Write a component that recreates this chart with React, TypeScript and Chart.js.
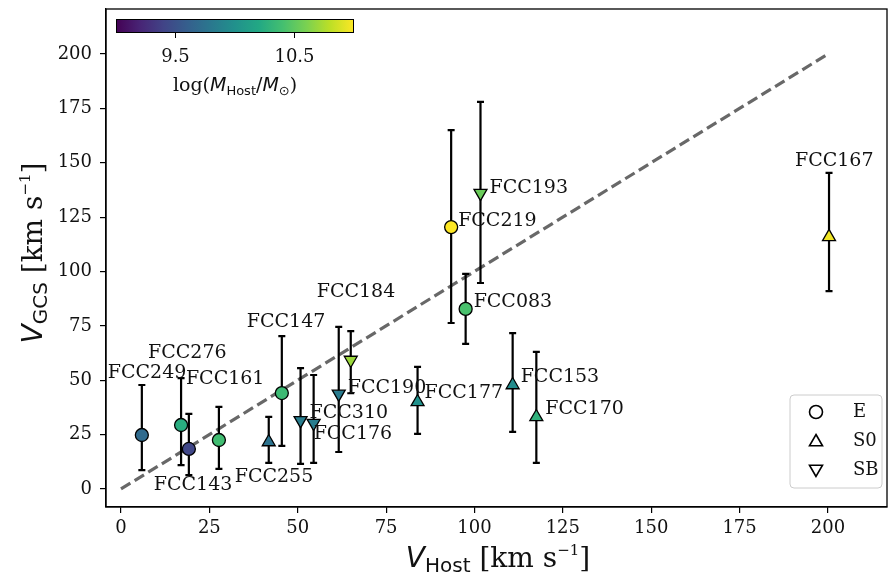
import React, { useEffect, useRef } from "react";
import { Chart, registerables } from "chart.js";
Chart.register(...registerables);

// ---- data ----
const names = ["FCC249", "FCC276", "FCC143", "FCC161", "FCC255", "FCC147", "FCC310", "FCC176", "FCC190", "FCC184", "FCC177", "FCC219", "FCC193", "FCC083", "FCC153", "FCC170", "FCC167"];
const vHost = [5.9, 17.0, 19.2, 27.7, 41.8, 45.5, 50.8, 54.5, 61.6, 65.0, 83.9, 93.4, 101.7, 97.5, 110.8, 117.5, 200.3];
const vGcs = [24.8, 29.4, 18.4, 22.5, 21.6, 44.1, 31.5, 30.3, 43.7, 59.3, 40.0, 120.4, 136.0, 82.8, 47.8, 33.1, 115.9];
const errLow = [16.1, 18.4, 12.0, 13.3, 9.6, 24.3, 20.0, 18.3, 26.7, 15.3, 14.7, 44.1, 41.3, 16.1, 21.6, 21.1, 24.9];
const errHigh = [23.0, 21.6, 16.1, 15.2, 11.5, 26.2, 24.1, 22.1, 30.8, 13.3, 16.1, 44.6, 42.0, 16.1, 23.9, 29.9, 29.4];
const morph = ["E", "E", "E", "E", "S0", "E", "SB", "SB", "SB", "SB", "S0", "E", "SB", "E", "S0", "S0", "S0"];
const logMass = [9.7, 10.24, 9.42, 10.38, 9.76, 10.36, 9.84, 9.84, 9.82, 10.7, 10.0, 11.0, 10.54, 10.42, 9.96, 10.28, 10.96];
const oneToOne = [0, 200];
const xTicks = [0, 25, 50, 75, 100, 125, 150, 175, 200];
const yTicks = [0, 25, 50, 75, 100, 125, 150, 175, 200];
const cbarRange = [9.0, 11.0];
const cbarTicks = [9.5, 10.5];
const legendLabels = ["E", "S0", "SB"];

// label placement (pixel offsets from marker), same order as names
const labelOffsets: [number, number][] = [
  [-34, -62], [-33, -72], [-35, 36], [-33, -61], [-34, 35], [-35, -71], [9, -7], [0, 11], [9, -6],
  [-34, -68], [7, -9], [7, -6], [9, -5], [8, -7], [8, -8], [9, -8], [-34, -76],
];

const SERIF = "'DejaVu Serif', serif";
const SANS = "'DejaVu Sans', sans-serif";

const VIRIDIS = ["#440154", "#482475", "#414487", "#355f8d", "#2a788e", "#21918c", "#22a884", "#44bf70", "#7ad151", "#bddf26", "#fde725"];
function hexToRgb(h: string) {
  return [parseInt(h.slice(1, 3), 16), parseInt(h.slice(3, 5), 16), parseInt(h.slice(5, 7), 16)];
}
function viridis(t: number) {
  t = Math.max(0, Math.min(1, t));
  const s = t * (VIRIDIS.length - 1);
  const i = Math.min(VIRIDIS.length - 2, Math.floor(s));
  const f = s - i;
  const a = hexToRgb(VIRIDIS[i]);
  const b = hexToRgb(VIRIDIS[i + 1]);
  const c = a.map((v, k) => Math.round(v + (b[k] - v) * f));
  return `rgb(${c[0]},${c[1]},${c[2]})`;
}
const massColor = (m: number) => viridis((m - cbarRange[0]) / (cbarRange[1] - cbarRange[0]));

type Part = { text: string; font: string; dy?: number };
function drawRich(ctx: CanvasRenderingContext2D, parts: Part[], x: number, y: number) {
  let total = 0;
  const widths = parts.map((p) => {
    ctx.font = p.font;
    const w = ctx.measureText(p.text).width;
    total += w;
    return w;
  });
  let cx = x - total / 2;
  ctx.textAlign = "left";
  ctx.textBaseline = "alphabetic";
  parts.forEach((p, i) => {
    ctx.font = p.font;
    ctx.fillText(p.text, cx, y + (p.dy || 0));
    cx += widths[i];
  });
}

function markerPath(ctx: CanvasRenderingContext2D, type: string, x: number, y: number) {
  ctx.beginPath();
  if (type === "E") {
    ctx.arc(x, y, 6.5, 0, Math.PI * 2);
  } else {
    const r = 7.5;
    const rot = type === "SB" ? Math.PI : 0;
    for (let k = 0; k < 3; k++) {
      const a = rot + (k * 2 * Math.PI) / 3;
      const px = x + Math.sin(a) * r;
      const py = y - Math.cos(a) * r;
      if (k === 0) ctx.moveTo(px, py);
      else ctx.lineTo(px, py);
    }
    ctx.closePath();
  }
}

const overlayPlugin = {
  id: "overlay",
  beforeDatasetDraw(chart: any, args: any) {
    if (args.index !== 1) return;
    const { ctx, scales } = chart;
    const xs = scales.x, ys = scales.y;
    ctx.save();
    ctx.strokeStyle = "#000";
    ctx.lineWidth = 2.2;
    ctx.lineCap = "butt";
    vHost.forEach((xv, i) => {
      const px = xs.getPixelForValue(xv);
      const y1 = ys.getPixelForValue(vGcs[i] - errLow[i]);
      const y2 = ys.getPixelForValue(vGcs[i] + errHigh[i]);
      ctx.beginPath();
      ctx.moveTo(px, y1);
      ctx.lineTo(px, y2);
      ctx.moveTo(px - 3.5, y1);
      ctx.lineTo(px + 3.5, y1);
      ctx.moveTo(px - 3.5, y2);
      ctx.lineTo(px + 3.5, y2);
      ctx.stroke();
    });
    ctx.restore();
  },
  afterDatasetsDraw(chart: any) {
    const { ctx, scales, chartArea } = chart;
    const xs = scales.x, ys = scales.y;
    ctx.save();
    // frame
    ctx.strokeStyle = "#000";
    ctx.lineWidth = 1.3;
    ctx.strokeRect(chartArea.left, chartArea.top, chartArea.right - chartArea.left, chartArea.bottom - chartArea.top);

    // annotations
    ctx.fillStyle = "#111";
    ctx.font = `19px ${SERIF}`;
    ctx.textAlign = "left";
    ctx.textBaseline = "middle";
    names.forEach((n, i) => {
      const px = xs.getPixelForValue(vHost[i]);
      const py = ys.getPixelForValue(vGcs[i]);
      ctx.fillText(n, px + labelOffsets[i][0], py + labelOffsets[i][1]);
    });

    // legend
    const lx = 790, ly = 395, lw = 92, lh = 93;
    ctx.beginPath();
    (ctx as any).roundRect(lx, ly, lw, lh, 4);
    ctx.fillStyle = "rgba(255,255,255,0.85)";
    ctx.fill();
    ctx.strokeStyle = "#cccccc";
    ctx.lineWidth = 1;
    ctx.stroke();
    const legendY = [412, 441, 470];
    legendLabels.forEach((lab, k) => {
      markerPath(ctx, lab, 816, legendY[k] + (lab === "S0" ? 1 : lab === "SB" ? -1 : 0));
      ctx.fillStyle = "#fff";
      ctx.fill();
      ctx.strokeStyle = "#000";
      ctx.lineWidth = 1.6;
      ctx.stroke();
      ctx.fillStyle = "#111";
      ctx.font = `18px ${SERIF}`;
      ctx.textAlign = "left";
      ctx.textBaseline = "middle";
      ctx.fillText(lab, 853, legendY[k]);
    });

    // colorbar
    const cx0 = 116, cx1 = 354, cy0 = 19, cy1 = 33;
    const grad = ctx.createLinearGradient(cx0, 0, cx1, 0);
    VIRIDIS.forEach((c, k) => grad.addColorStop(k / (VIRIDIS.length - 1), c));
    ctx.fillStyle = grad;
    ctx.fillRect(cx0, cy0, cx1 - cx0, cy1 - cy0);
    ctx.strokeStyle = "#000";
    ctx.lineWidth = 1;
    ctx.strokeRect(cx0 + 0.5, cy0 + 0.5, cx1 - cx0 - 1, cy1 - cy0 - 1);
    ctx.fillStyle = "#111";
    ctx.font = `18px ${SERIF}`;
    ctx.textAlign = "center";
    ctx.textBaseline = "middle";
    cbarTicks.forEach((t) => {
      const px = cx0 + ((t - cbarRange[0]) / (cbarRange[1] - cbarRange[0])) * (cx1 - cx0);
      ctx.beginPath();
      ctx.moveTo(px, cy1);
      ctx.lineTo(px, cy1 + 5);
      ctx.stroke();
      ctx.fillText(String(t), px, 57);
    });
    ctx.fillStyle = "#111";
    drawRich(ctx, [
      { text: "log(", font: `19px ${SERIF}` },
      { text: "M", font: `italic 19px ${SANS}` },
      { text: "Host", font: `13px ${SANS}`, dy: 4 },
      { text: "/", font: `19px ${SANS}` },
      { text: "M", font: `italic 19px ${SANS}` },
      { text: "⊙", font: `13px ${SANS}`, dy: 4 },
      { text: ")", font: `19px ${SERIF}` },
    ], 235, 91);

    // axis titles
    drawRich(ctx, [
      { text: "V", font: `italic 28px ${SANS}` },
      { text: "Host", font: `20px ${SANS}`, dy: 5 },
      { text: " [km s", font: `28px ${SERIF}` },
      { text: "−1", font: `15px ${SERIF}`, dy: -12 },
      { text: "]", font: `28px ${SERIF}` },
    ], 498, 567);
    ctx.save();
    ctx.translate(42, 253);
    ctx.rotate(-Math.PI / 2);
    drawRich(ctx, [
      { text: "V", font: `italic 28px ${SANS}` },
      { text: "GCS", font: `20px ${SANS}`, dy: 5 },
      { text: " [km s", font: `28px ${SERIF}` },
      { text: "−1", font: `15px ${SERIF}`, dy: -12 },
      { text: "]", font: `28px ${SERIF}` },
    ], 0, 0);
    ctx.restore();
    ctx.restore();
  },
};

export default function App() {
  const ref = useRef<HTMLCanvasElement>(null);
  useEffect(() => {
    document.body.style.margin = "0";
    const canvas = ref.current!;
    const chart = new Chart(canvas, {
      type: "scatter",
      data: {
        datasets: [
          {
            type: "line",
            data: oneToOne.map((v) => ({ x: v, y: v })),
            borderColor: "#686868",
            borderWidth: 3.2,
            borderDash: [11, 5],
            pointRadius: 0,
            fill: false,
            order: 2,
          } as any,
          {
            type: "scatter",
            data: vHost.map((x, i) => ({ x, y: vGcs[i] })),
            pointStyle: morph.map((m) => (m === "E" ? "circle" : "triangle")) as any,
            rotation: morph.map((m) => (m === "SB" ? 180 : 0)),
            pointRadius: morph.map((m) => (m === "E" ? 6.5 : 7.5)),
            backgroundColor: logMass.map(massColor),
            borderColor: "#000",
            borderWidth: 1.3,
            order: 1,
          } as any,
        ],
      },
      options: {
        responsive: false,
        animation: false,
        devicePixelRatio: 1,
        layout: { autoPadding: false, padding: { top: 9, right: 2, left: 0, bottom: 0 } },
        plugins: { legend: { display: false }, tooltip: { enabled: false } },
        scales: {
          x: {
            type: "linear",
            min: -4.24,
            max: 216.7,
            afterBuildTicks: (s: any) => { s.ticks = xTicks.map((v) => ({ value: v })); },
            afterFit: (s: any) => { s.height = 67; s.paddingLeft = 0; s.paddingRight = 0; },
            ticks: { font: { family: "DejaVu Serif", size: 18 }, color: "#111", padding: 5, maxRotation: 0, autoSkip: false },
            grid: { drawOnChartArea: false, drawTicks: true, tickLength: 6, color: "#000", lineWidth: 1.2 },
            border: { display: true, color: "#000", width: 1.3 },
          },
          y: {
            type: "linear",
            min: -8.3,
            max: 220.7,
            afterBuildTicks: (s: any) => { s.ticks = yTicks.map((v) => ({ value: v })); },
            afterFit: (s: any) => { s.width = 106; s.paddingTop = 0; s.paddingBottom = 0; },
            ticks: { font: { family: "DejaVu Serif", size: 18 }, color: "#111", padding: 8, autoSkip: false },
            grid: { drawOnChartArea: false, drawTicks: true, tickLength: 6, color: "#000", lineWidth: 1.2 },
            border: { display: true, color: "#000", width: 1.3 },
          },
        },
      } as any,
      plugins: [overlayPlugin],
    });
    return () => chart.destroy();
  }, []);
  return (
    <div style={{ width: 889, height: 574 }}>
      <canvas ref={ref} width={889} height={574} />
    </div>
  );
}
